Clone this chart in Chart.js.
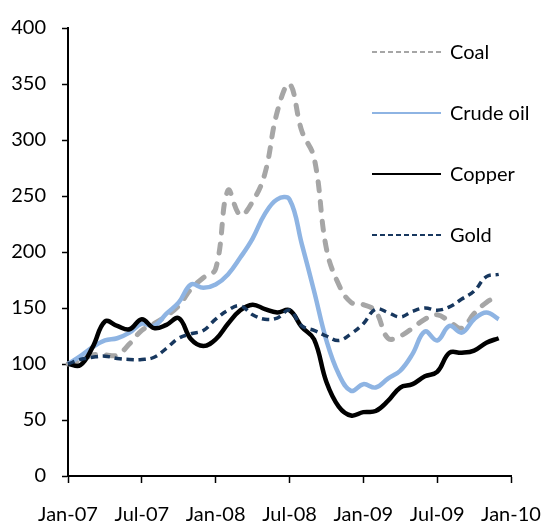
<!DOCTYPE html>
<html lang="en">
<head>
    <meta charset="UTF-8">
    <title>Commodity prices</title>
    <script src="https://cdn.jsdelivr.net/npm/chart.js"></script>
    <style>
        body {
            margin: 0;
            background-color: white;
        }

        .chart-container {
            position: relative;
            width: 542px;
            height: 523px;
        }
    </style>
</head>
<body>
    <div class="chart-container">
        <canvas id="priceChart"></canvas>
    </div>

    <script>
        // Months Jan-07 .. Jan-10 (the last one only carries the end tick)
        const months = ['Jan-07', 'Feb-07', 'Mar-07', 'Apr-07', 'May-07', 'Jun-07', 'Jul-07', 'Aug-07', 'Sep-07', 'Oct-07', 'Nov-07', 'Dec-07',
            'Jan-08', 'Feb-08', 'Mar-08', 'Apr-08', 'May-08', 'Jun-08', 'Jul-08', 'Aug-08', 'Sep-08', 'Oct-08', 'Nov-08', 'Dec-08',
            'Jan-09', 'Feb-09', 'Mar-09', 'Apr-09', 'May-09', 'Jun-09', 'Jul-09', 'Aug-09', 'Sep-09', 'Oct-09', 'Nov-09', 'Dec-09',
            'Jan-10'];

        // Index values, Jan-07 = 100
        const coal = [100, 103, 108, 108, 108, 118, 130, 136, 143, 152, 167, 177,
            185, 255, 233, 245, 270, 325, 350, 308, 284, 203, 171, 155,
            153, 147, 123, 125, 132, 140, 144, 138, 132, 145, 155, 161];
        const crudeOil = [100, 107, 115, 121, 123, 128, 136, 134, 145, 155, 171, 168,
            171, 180, 195, 212, 234, 247, 247, 207, 165, 121, 91, 76,
            82, 79, 87, 94, 109, 129, 121, 134, 128, 140, 146, 140];
        const copper = [100, 99, 115, 138, 134, 131, 140, 132, 135, 141, 122, 116,
            122, 136, 148, 153, 149, 146, 148, 133, 122, 84, 62, 54,
            57, 58, 67, 79, 82, 89, 93, 110, 110, 112, 119, 123];
        const gold = [100, 104, 106, 107, 105, 104, 104, 106, 114, 123, 127, 130,
            140, 148, 152, 144, 140, 141, 148, 134, 130, 125, 121, 127,
            136, 149, 146, 142, 147, 150, 148, 151, 158, 165, 178, 180];

        const yTicks = [0, 50, 100, 150, 200, 250, 300, 350, 400];

        const FONT = 'Lato, sans-serif';

        // Legend drawn inside the plot, one row per series
        const insideLegend = {
            id: 'insideLegend',
            afterDraw(chart) {
                const c = chart.ctx;
                const rows = [52, 113, 174, 235];
                chart.data.datasets.forEach((ds, i) => {
                    const y = rows[i];
                    c.save();
                    c.strokeStyle = ds.borderColor;
                    c.lineWidth = 2;
                    c.setLineDash(ds.borderDash ? [5, 3] : []);
                    c.beginPath();
                    c.moveTo(372, y);
                    c.lineTo(441, y);
                    c.stroke();
                    c.setLineDash([]);
                    c.fillStyle = '#000';
                    c.font = '20px ' + FONT;
                    c.textBaseline = 'middle';
                    c.fillText(ds.label, 450, y + 1);
                    c.restore();
                });
            }
        };

        const ctx = document.getElementById('priceChart').getContext('2d');
        const chart = new Chart(ctx, {
            type: 'line',
            data: {
                labels: months,
                datasets: [
                    {
                        label: 'Coal',
                        data: coal,
                        borderColor: '#A6A6A6',
                        borderWidth: 5,
                        borderDash: [9, 11],
                        borderCapStyle: 'round',
                        order: 4
                    },
                    {
                        label: 'Crude oil',
                        data: crudeOil,
                        borderColor: '#8EB4E3',
                        borderWidth: 4.5,
                        order: 3
                    },
                    {
                        label: 'Copper',
                        data: copper,
                        borderColor: '#000000',
                        borderWidth: 4.5,
                        order: 2
                    },
                    {
                        label: 'Gold',
                        data: gold,
                        borderColor: '#17375E',
                        borderWidth: 3.5,
                        borderDash: [7, 5],
                        order: 1
                    }
                ]
            },
            options: {
                responsive: true,
                maintainAspectRatio: false,
                animation: false,
                layout: {
                    padding: { top: 26, right: 31, bottom: 0, left: 0 }
                },
                elements: {
                    point: { radius: 0 },
                    line: { tension: 0.4, fill: false }
                },
                plugins: {
                    legend: { display: false },
                    tooltip: { enabled: false }
                },
                scales: {
                    x: {
                        offset: false,
                        afterFit: (scale) => {
                            scale.height = 47;
                            // keep the label overhang from shrinking the plot
                            scale.paddingLeft = 0;
                            scale.paddingRight = 0;
                        },
                        grid: {
                            drawOnChartArea: false,
                            color: '#000',
                            tickLength: 7,
                            tickWidth: 1.5
                        },
                        border: { color: '#000', width: 2 },
                        ticks: {
                            autoSkip: false,
                            maxRotation: 0,
                            padding: 20,
                            color: '#000',
                            font: { family: FONT, size: 20 },
                            callback: function (value, index) {
                                return index % 6 === 0 ? months[index] : null;
                            }
                        }
                    },
                    y: {
                        min: 0,
                        max: 400,
                        afterFit: (scale) => { scale.width = 68; },
                        afterBuildTicks: (scale) => {
                            scale.ticks = yTicks.map(v => ({ value: v }));
                        },
                        grid: {
                            drawOnChartArea: false,
                            color: '#000',
                            tickLength: 6,
                            tickWidth: 1.5
                        },
                        border: { color: '#000', width: 2 },
                        ticks: {
                            padding: 16,
                            color: '#000',
                            font: { family: FONT, size: 20 }
                        }
                    }
                }
            },
            plugins: [insideLegend]
        });
    </script>
</body>
</html>
